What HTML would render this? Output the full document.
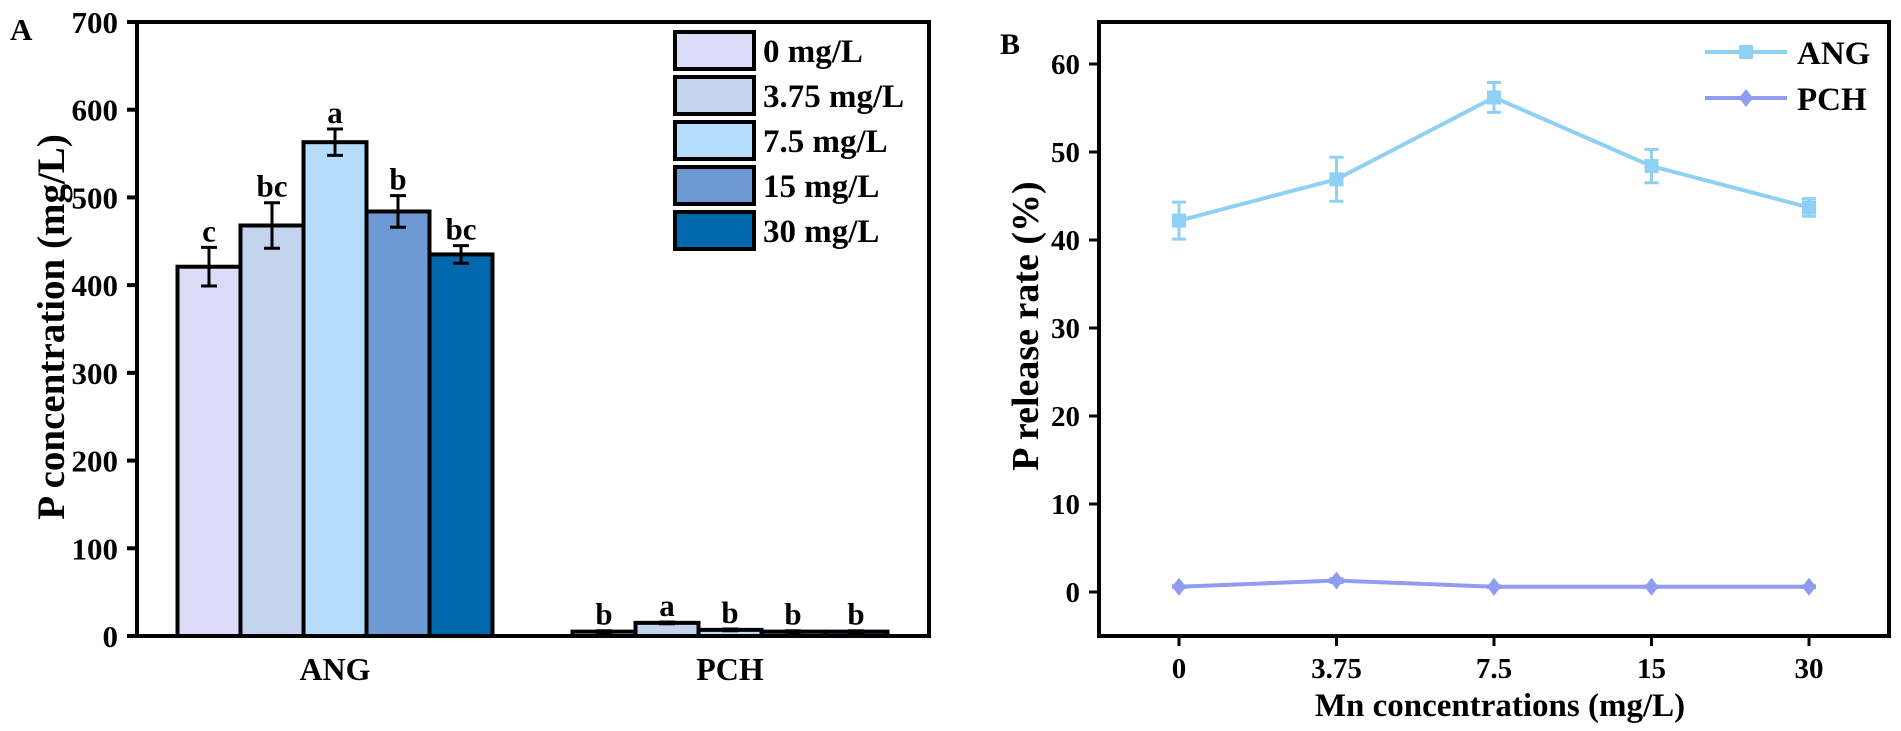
<!DOCTYPE html>
<html><head><meta charset="utf-8"><style>
html,body{margin:0;padding:0;background:#fff;}
svg{display:block;font-family:"Liberation Serif",serif;font-weight:bold;}
</style></head><body>
<svg id="fig" width="1901" height="731" viewBox="0 0 1901 731"></svg>
<script>
// Panel A data
const groupsA = ["ANG","PCH"];
const seriesA = ["0 mg/L","3.75 mg/L","7.5 mg/L","15 mg/L","30 mg/L"];
const angVals = [421,468,563,484,435];
const angErr = [22,26,15,18,10];
const angLetters = ["c","bc","a","b","bc"];
const pchVals = [5,15,7,5,5];
const pchErr = [1,1,1,1,1];
const pchLetters = ["b","a","b","b","b"];
const ticksA = [0,100,200,300,400,500,600,700];
// Panel B data
const catsB = ["0","3.75","7.5","15","30"];
const angRate = [42.2,46.9,56.2,48.4,43.7];
const angRateErr = [2.1,2.5,1.7,1.9,1.0];
const pchRate = [0.6,1.3,0.6,0.6,0.6];
const pchRateErr = [0.1,0.2,0.1,0.1,0.1];
const ticksB = [0,10,20,30,40,50,60];

const colors = ["#dcdcf8","#c5d4ee","#b5dcfb","#6f99d4","#0068ad"];
const NS="http://www.w3.org/2000/svg";
const svg=document.getElementById('fig');
function mk(tag,attrs,parent,text){const e=document.createElementNS(NS,tag);for(const k in attrs)e.setAttribute(k,attrs[k]);if(text!==undefined)e.textContent=text;(parent||svg).appendChild(e);return e;}

// ---- Panel A ----
const A={x0:137,x1:929,y0:636,y1:22};
const yA=v=>A.y0-(v/700)*(A.y0-A.y1);
const groupCenters=[335,730];const bw=63;
const gA=mk('g',{});


const allVals=[angVals,pchVals],allErr=[angErr,pchErr],allLet=[angLetters,pchLetters];
groupsA.forEach((g,gi)=>{
  allVals[gi].forEach((v,i)=>{
    const x=groupCenters[gi]-2.5*bw+i*bw;
    const r=mk('rect',{x:x,y:yA(v),width:bw,height:A.y0-yA(v),fill:colors[i],stroke:'#000','stroke-width':4},gA);
    
    
    const cx=x+bw/2,e=allErr[gi][i];
    const eb=mk('path',{d:`M${cx} ${yA(v+e)}V${yA(v-e)}M${cx-8} ${yA(v+e)}H${cx+8}M${cx-8} ${yA(v-e)}H${cx+8}`,stroke:'#000','stroke-width':3,fill:'none'},gA);
    
    
    const t=mk('text',{x:cx,y:yA(v+e)-6,'text-anchor':'middle','font-size':31},gA,allLet[gi][i]);
    
    
  });
  const lab=mk('text',{x:groupCenters[gi],y:680,'text-anchor':'middle','font-size':32},gA,g);
  
  
});
const frA=mk('path',{d:`M${A.x0} ${A.y1}H${A.x1}V${A.y0}H${A.x0}Z`,fill:'none',stroke:'#000','stroke-width':4},gA);


ticksA.forEach(t=>{
  mk('line',{x1:A.x0-10,x2:A.x0,y1:yA(t),y2:yA(t),stroke:'#000','stroke-width':4},gA);
  const tl=mk('text',{x:118,y:yA(t)+11,'text-anchor':'end','font-size':31},gA,String(t));
  
  
});
const ytA=mk('text',{x:0,y:0,transform:'translate(64,327) rotate(-90)','text-anchor':'middle','font-size':39},gA,'P concentration (mg/L)');


const la=mk('text',{x:10,y:40,'font-size':31},gA,'A');


const legA=mk('g',{},gA);


seriesA.forEach((s,i)=>{
  const y=32+i*45;
  const b=mk('rect',{x:675,y:y,width:79,height:37,fill:colors[i],stroke:'#000','stroke-width':4},legA);
  
  
  const t=mk('text',{x:763,y:y+30,'font-size':33},legA,s);
  
  
});

// ---- Panel B ----
const B={x0:1099,x1:1889,y0:636,y1:22};
const yB=v=>592-v*8.8;
const xB=i=>1179+i*157.5;
const gB=mk('g',{});


const frB=mk('path',{d:`M${B.x0} ${B.y1}H${B.x1}V${B.y0}H${B.x0}Z`,fill:'none',stroke:'#000','stroke-width':4},gB);


ticksB.forEach(t=>{
  mk('line',{x1:B.x0-10,x2:B.x0,y1:yB(t),y2:yB(t),stroke:'#000','stroke-width':3},gB);
  const tl=mk('text',{x:1080,y:yB(t)+10,'text-anchor':'end','font-size':29},gB,String(t));
  
  
});
catsB.forEach((c,i)=>{
  mk('line',{x1:xB(i),x2:xB(i),y1:B.y0,y2:B.y0+10,stroke:'#000','stroke-width':3},gB);
  const tl=mk('text',{x:xB(i),y:678,'text-anchor':'middle','font-size':29},gB,c);
  
  
});
function series(vals,errs,color,marker,name){
  const g=mk('g',{},gB);
  
  
  mk('polyline',{points:vals.map((v,i)=>xB(i)+','+yB(v)).join(' '),fill:'none',stroke:color,'stroke-width':4},g);
  vals.forEach((v,i)=>{
    const x=xB(i),e=errs[i];
    mk('path',{d:`M${x} ${yB(v+e)}V${yB(v-e)}M${x-7} ${yB(v+e)}H${x+7}M${x-7} ${yB(v-e)}H${x+7}`,stroke:color,'stroke-width':3,fill:'none'},g);
    if(marker==='sq') mk('rect',{x:x-7,y:yB(v)-7,width:14,height:14,fill:color},g);
    else mk('path',{d:`M${x} ${yB(v)-9}L${x+7} ${yB(v)}L${x} ${yB(v)+9}L${x-7} ${yB(v)}Z`,fill:color},g);
  });
}
series(angRate,angRateErr,'#8fd0f5','sq','series-ang');
series(pchRate,pchRateErr,'#8f9cf0','di','series-pch');
const ytB=mk('text',{x:0,y:0,transform:'translate(1038,326) rotate(-90)','text-anchor':'middle','font-size':38},gB,'P release rate (%)');


const xtB=mk('text',{x:1500,y:716,'text-anchor':'middle','font-size':33},gB,'Mn concentrations (mg/L)');


const lb=mk('text',{x:1000,y:54,'font-size':30},gB,'B');


const legB=mk('g',{},gB);


[['ANG','#8fd0f5','sq',52],['PCH','#8f9cf0','di',98]].forEach(([n,c,m,y])=>{
  mk('line',{x1:1705,x2:1787,y1:y,y2:y,stroke:c,'stroke-width':4},legB);
  const x=1746;
  if(m==='sq') mk('rect',{x:x-7,y:y-7,width:14,height:14,fill:c},legB);
  else mk('path',{d:`M${x} ${y-9}L${x+7} ${y}L${x} ${y+9}L${x-7} ${y}Z`,fill:c},legB);
  const t=mk('text',{x:1797,y:y+12,'font-size':33},legB,n);
  
  
});
</script>
</body></html>
